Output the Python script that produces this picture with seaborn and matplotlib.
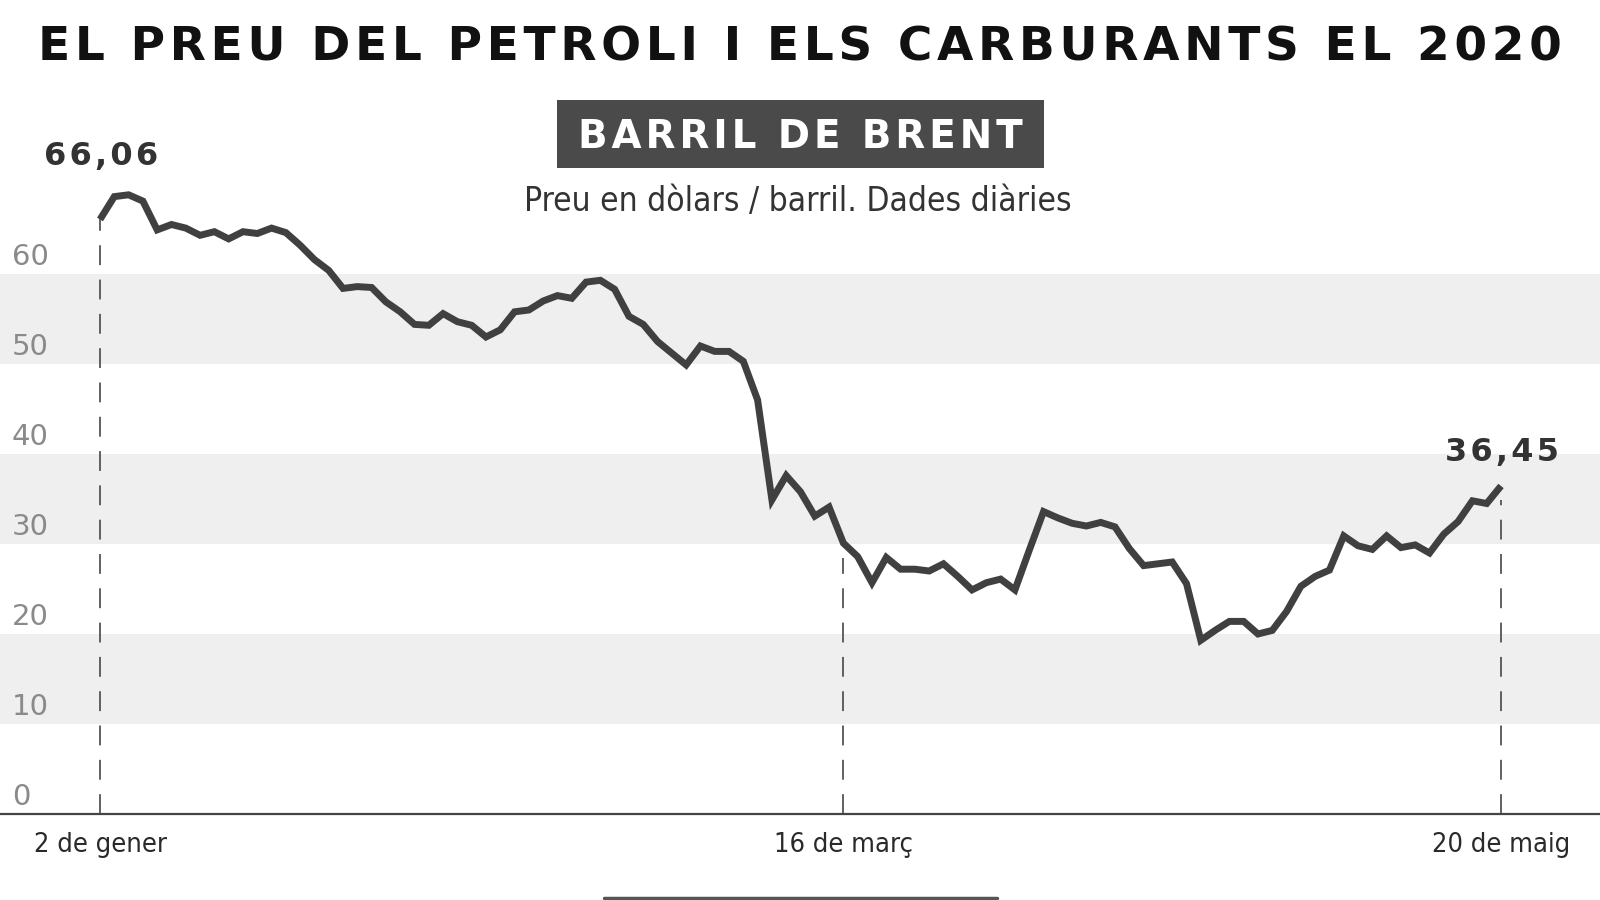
import numpy as np
import pandas as pd
import matplotlib
matplotlib.use("Agg")
import matplotlib.pyplot as plt
import seaborn as sns
from matplotlib import font_manager
from matplotlib.patches import Rectangle
from matplotlib.lines import Line2D
from matplotlib.transforms import blended_transform_factory

# ---------------- data ----------------
title = "EL PREU DEL PETROLI I ELS CARBURANTS EL 2020"
box_label = "BARRIL DE BRENT"
subtitle = "Preu en dòlars / barril. Dades diàries"

brent = [
    66.06, 68.6, 68.8, 68.1, 64.9, 65.5, 65.1, 64.3, 64.7, 63.9,
    64.7, 64.5, 65.1, 64.6, 63.2, 61.6, 60.4, 58.4, 58.6, 58.5,
    56.9, 55.8, 54.4, 54.3, 55.6, 54.7, 54.3, 53.0, 53.8, 55.8,
    56.0, 57.0, 57.6, 57.3, 59.1, 59.3, 58.3, 55.3, 54.4, 52.5,
    51.2, 49.9, 52.0, 51.4, 51.4, 50.3, 46.0, 34.9, 37.6, 35.8,
    33.1, 34.1, 30.1, 28.6, 25.7, 28.5, 27.2, 27.2, 27.0, 27.8,
    26.4, 24.9, 25.7, 26.1, 24.9, 29.3, 33.6, 32.9, 32.3, 32.0,
    32.4, 31.9, 29.5, 27.6, 27.8, 28.0, 25.6, 19.3, 20.4, 21.4,
    21.4, 20.0, 20.4, 22.5, 25.3, 26.4, 27.1, 30.9, 29.8, 29.4,
    30.9, 29.6, 29.9, 29.0, 31.1, 32.5, 34.8, 34.5, 36.45,
]
tick_idx = [0, 52, 98]
tick_labels = ["2 de gener", "16 de març", "20 de maig"]
y_labels = [0, 10, 20, 30, 40, 50, 60]
bands = [(10, 20), (30, 40), (50, 60)]
annot_idx = [0, 98]
annot_text = ["66,06", "36,45"]

df = pd.DataFrame({"dia": np.arange(len(brent)), "preu": brent})

HS = "\u200a"  # hair space for letter spacing


def spaced(s):
    return HS.join(s)


# ---------------- fonts ----------------
has_cond = any(f.name == "DejaVu Sans" and str(f.stretch) in ("condensed", "semi-condensed")
               for f in font_manager.fontManager.ttflist)
has_narrow = any(f.name == "Liberation Sans Narrow" for f in font_manager.fontManager.ttflist)
if has_narrow:
    narrow_kw = dict(family=["Liberation Sans Narrow", "DejaVu Sans"])
    nscale = 1.0
elif has_cond:
    narrow_kw = dict(family=["DejaVu Sans"], fontstretch="condensed")
    nscale = 1.0
else:
    narrow_kw = dict(family=["DejaVu Sans"])
    nscale = 0.9

sns.set_theme(style="white")
plt.rcParams["font.family"] = ["DejaVu Sans"]

fig = plt.figure(figsize=(16, 9), dpi=100)
ax = fig.add_axes([0, 86 / 900, 1, 630 / 900])

for lo, hi in bands:
    ax.axhspan(lo, hi, color="#efefef", lw=0, zorder=0)

# dashed guides
for k, i in enumerate(tick_idx):
    top = brent[i] if k == 0 else brent[i] - 1.6
    ax.plot([i, i], [0, top], color="#555555", lw=1.3,
            dashes=(11, 8), zorder=1)

sns.lineplot(data=df, x="dia", y="preu", ax=ax, color="#404040", lw=5.0,
             zorder=3, solid_joinstyle="miter", solid_capstyle="butt")

ax.set_xlim(-6.995, 104.925)
ax.set_ylim(0, 70)
for s in ["left", "right", "top"]:
    ax.spines[s].set_visible(False)
ax.spines["bottom"].set_color("#444444")
ax.spines["bottom"].set_linewidth(1.6)
ax.set_yticks([])
ax.set_xticks(tick_idx)
ax.set_xticklabels(tick_labels, fontsize=19.5 * nscale, color="#2a2a2a", **narrow_kw)
ax.tick_params(axis="x", length=0, pad=13)
ax.set_xlabel("")
ax.set_ylabel("")

trans = blended_transform_factory(ax.transAxes, ax.transData)
for v in y_labels:
    ax.annotate(str(v), xy=(12 / 1600, v), xycoords=trans,
                xytext=(0, 9), textcoords="offset pixels",
                ha="left", va="baseline", fontsize=21, color="#8a8a8a")

offsets = [54, 25]
for i, t, off in zip(annot_idx, annot_text, offsets):
    ax.annotate(spaced(t), xy=(i, brent[i]), xytext=(1, off), textcoords="offset pixels",
                ha="center", va="baseline", fontsize=23, fontweight="bold",
                color="#333333", annotation_clip=False)

# title
fig.text(0.5, 1 - 48 / 900, spaced(title), ha="center", va="center", fontsize=33.8,
         fontweight="heavy", color="#111111")

# box
fig.add_artist(Rectangle((557 / 1600, 1 - 168 / 900), 487 / 1600, 68 / 900,
                         transform=fig.transFigure, facecolor="#4a4a4a",
                         edgecolor="none"))
fig.text(800 / 1600, 1 - 137 / 900, spaced(box_label), ha="center", va="center",
         fontsize=28, fontweight="bold", color="white")

fig.text(798 / 1600, 1 - 201 / 900, subtitle, ha="center", va="center",
         fontsize=24 * nscale, color="#333333", **narrow_kw)

fig.add_artist(Line2D([604 / 1600, 997 / 1600], [1 - 898 / 900, 1 - 898 / 900],
                      transform=fig.transFigure, color="#555555", lw=2.5))

fig.savefig("out.png", dpi=100)
